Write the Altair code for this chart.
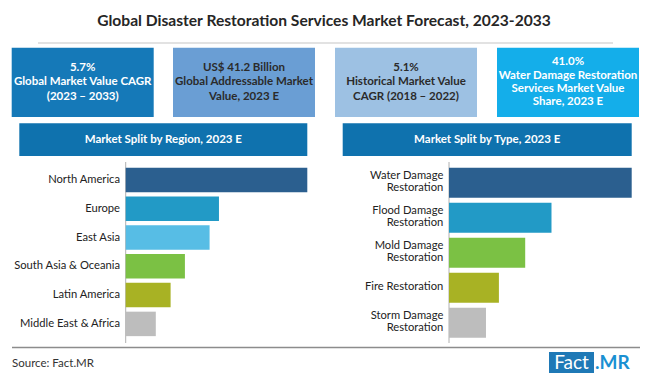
import altair as alt
import pandas as pd

# ---------------- data ----------------
title_text = "Global Disaster Restoration Services Market Forecast, 2023-2033"
kpi_texts = [
    ["5.7%", "Global Market Value CAGR", "(2023 – 2033)"],
    ["US$ 41.2 Billion", "Global Addressable Market", "Value, 2023 E"],
    ["5.1%", "Historical Market Value", "CAGR (2018 – 2022)"],
    ["41.0%", "Water Damage Restoration", "Services Market Value", "Share, 2023 E"],
]
region_title = "Market Split by Region, 2023 E"
regions = ["North America", "Europe", "East Asia", "South Asia & Oceania",
           "Latin America", "Middle East & Africa"]
region_share = [36.8, 18.9, 17.0, 12.0, 9.1, 6.1]

type_title = "Market Split by Type, 2023 E"
types = ["Water Damage\nRestoration", "Flood Damage\nRestoration",
         "Mold Damage\nRestoration", "Fire Restoration", "Storm Damage\nRestoration"]
type_share = [41.0, 23.0, 17.1, 11.2, 8.3]

source_text = "Source: Fact.MR"

# ---------------- styles ----------------
FONT = "Lato"
kpi_fill = ["#1579b8", "#6a9ed4", "#9dc1e3", "#14aeea"]
kpi_ink = ["white", "#2b2b2b", "#2b2b2b", "white"]
header_fill = "#0f72ae"
region_colors = ["#2b5f8f", "#229ac6", "#57bde5", "#7bc144", "#a8b224", "#bdbdbd"]
type_colors = ["#2b5f8f", "#229ac6", "#7bc144", "#a8b224", "#bdbdbd"]

one = pd.DataFrame({"d": [0]})
layers = []

# title
layers.append(alt.Chart(one).mark_text(
    font=FONT, fontSize=15.6, fontWeight="bold", color="#262626",
    align="center", baseline="middle").encode(
    x=alt.value(316), y=alt.value(13), text=alt.value(title_text)))
# separator
layers.append(alt.Chart(one).mark_rule(color="#d9d9d9", strokeWidth=1.5).encode(
    x=alt.value(30), x2=alt.value(605), y=alt.value(35)))

# KPI boxes
box_x0 = [3.7, 165.0, 327.0, 489.0]
box_w = 142
box_mid = 74.3
for i, lines in enumerate(kpi_texts):
    x0 = box_x0[i]
    lh = 14.8 if len(lines) <= 3 else 13.4
    first = box_mid - (len(lines) - 1) * lh / 2
    layers.append(alt.Chart(one).mark_rect(color=kpi_fill[i]).encode(
        x=alt.value(x0), x2=alt.value(x0 + box_w),
        y=alt.value(39.7), y2=alt.value(109)))
    layers.append(alt.Chart(one).mark_text(
        font=FONT, fontSize=11.5, fontWeight="bold", color=kpi_ink[i],
        align="center", baseline="middle", lineHeight=lh).encode(
        x=alt.value(x0 + box_w / 2), y=alt.value(first), text=alt.value(lines)))

# section headers
for x0, x1, t in [(11.3, 299.3, region_title), (334.7, 623.7, type_title)]:
    layers.append(alt.Chart(one).mark_rect(color=header_fill).encode(
        x=alt.value(x0), x2=alt.value(x1), y=alt.value(115.3), y2=alt.value(148)))
    layers.append(alt.Chart(one).mark_text(
        font=FONT, fontSize=11.5, fontWeight="bold", color="white",
        align="center", baseline="middle").encode(
        x=alt.value((x0 + x1) / 2), y=alt.value(131.7), text=alt.value(t)))

# axis lines
for ax in [117.7, 441.0]:
    layers.append(alt.Chart(one).mark_rule(color="#b0b0b0", strokeWidth=1).encode(
        x=alt.value(ax), y=alt.value(154), y2=alt.value(335)))
# bottom rule
layers.append(alt.Chart(one).mark_rule(color="#8c8c8c", strokeWidth=1.5).encode(
    x=alt.value(4), x2=alt.value(632), y=alt.value(339.5)))

# ---------------- region bars ----------------
left_df = pd.DataFrame({"region": regions, "share": region_share})
ly = alt.Y("region:N", sort=regions, axis=None,
           scale=alt.Scale(range=[157.5, 330.3], paddingInner=0.15, paddingOuter=0.075))
lx = alt.X("share:Q", axis=None, scale=alt.Scale(domain=[0, 36.8], range=[117.7, 299.3]))
left_bars = alt.Chart(left_df).mark_bar().encode(
    x=lx, y=ly,
    color=alt.Color("region:N", legend=None,
                    scale=alt.Scale(domain=regions, range=region_colors)))
left_labels = alt.Chart(left_df).mark_text(
    font=FONT, fontSize=11.2, color="#222222", align="right", baseline="middle").encode(
    y=ly, x=alt.value(112), text="region:N")
left = alt.layer(left_bars, left_labels)

# ---------------- type bars ----------------
right_df = pd.DataFrame({"type": types, "share": type_share})
ry = alt.Y("type:N", sort=types, axis=None,
           scale=alt.Scale(range=[157.2, 332.2], paddingInner=0.143, paddingOuter=0.0715))
rx = alt.X("share:Q", axis=None, scale=alt.Scale(domain=[0, 41.0], range=[441.0, 623.7]))
right_bars = alt.Chart(right_df).mark_bar().encode(
    x=rx, y=ry,
    color=alt.Color("type:N", legend=None,
                    scale=alt.Scale(domain=types, range=type_colors)))
multi = "indexof(datum.type, '\\n') >= 0"
label_style = dict(font=FONT, fontSize=11.2, color="#222222", align="right",
                   baseline="middle", lineBreak="\n", lineHeight=12.2)
right_labels2 = alt.Chart(right_df).transform_filter(multi).mark_text(
    dy=-7, **label_style).encode(y=ry, x=alt.value(435.3), text="type:N")
right_labels1 = alt.Chart(right_df).transform_filter("!(" + multi + ")").mark_text(
    dy=-1, **label_style).encode(y=ry, x=alt.value(435.3), text="type:N")
right = alt.layer(right_bars, right_labels2, right_labels1)

# footer
layers.append(alt.Chart(one).mark_text(
    font=FONT, fontSize=11.5, color="#333333", align="left", baseline="middle").encode(
    x=alt.value(4), y=alt.value(356), text=alt.value(source_text)))
layers.append(alt.Chart(one).mark_rect(color="#1f79b6").encode(
    x=alt.value(541), x2=alt.value(586), y=alt.value(344), y2=alt.value(365)))
layers.append(alt.Chart(one).mark_text(
    font=FONT, fontSize=19, color="white", align="center", baseline="middle").encode(
    x=alt.value(563.5), y=alt.value(355), text=alt.value("Fact")))
layers.append(alt.Chart(one).mark_text(
    font=FONT, fontSize=19, fontWeight="bold", color="#1a90d2", align="left",
    baseline="middle").encode(
    x=alt.value(587), y=alt.value(355), text=alt.value(".MR")))

chart = alt.layer(*layers, left, right).resolve_scale(
    x="independent", y="independent", color="independent"
).properties(
    width=634, height=365, padding=0, autosize="none", background="white"
).configure_view(stroke=None)

chart.save("out.html", embed_options={"renderer": "svg", "actions": False})
